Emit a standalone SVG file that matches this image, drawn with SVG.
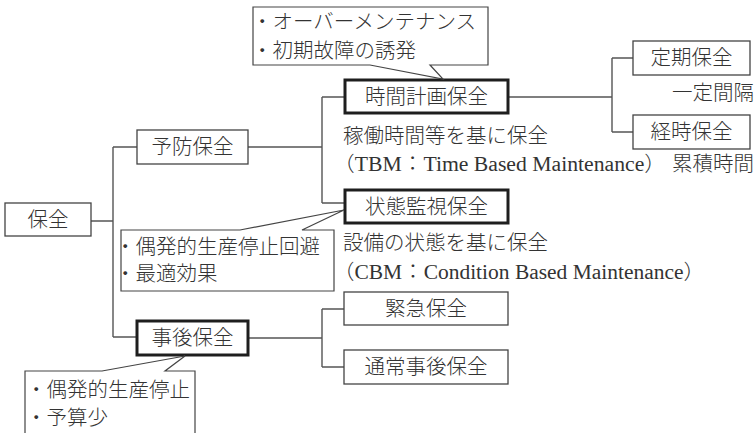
<svg xmlns="http://www.w3.org/2000/svg" width="755" height="433" viewBox="0 0 755 433">
<style>
text{font-family:"Liberation Serif","Noto Sans CJK JP",serif;font-size:20.5px;font-weight:300;fill:#333;dominant-baseline:central}
.c{text-anchor:middle}
.box{fill:#fff;stroke:#444;stroke-width:1.3}
.bold{fill:#fff;stroke:#1e1e1e;stroke-width:3}
.call{fill:#fff;stroke:#444;stroke-width:1.2;stroke-linejoin:miter}
#connectors path{fill:none;stroke:#555;stroke-width:1.4}
</style>
<rect width="755" height="433" fill="#fff"/>
<g id="connectors">
<path d="M91,221 H113 M113,147 V337 M113,147 H137 M113,337 H137"/>
<path d="M248,147 H322 M322,97 V203 M322,97 H345 M322,203 H345"/>
<path d="M508,97 H612 M612,58 V132 M612,58 H633 M612,132 H633"/>
<path d="M248,338 H322 M322,309 V367 M322,309 H344 M322,367 H344"/>
</g>
<g id="n-hozen"><rect class="box" x="5" y="203" width="86" height="33"/><text class="c" x="48" y="219.5">保全</text></g>
<g id="n-yobou"><rect class="box" x="137" y="130" width="111" height="34"/><text class="c" x="192.5" y="147">予防保全</text></g>
<g id="n-jigo"><rect class="bold" x="137" y="321" width="111" height="34"/><text class="c" x="192.5" y="338">事後保全</text></g>
<g id="n-jikan"><rect class="bold" x="345" y="80" width="163" height="33"/><text class="c" x="426.5" y="96.5">時間計画保全</text></g>
<g id="n-joutai"><rect class="bold" x="345" y="190" width="163" height="33"/><text class="c" x="426.5" y="206.5">状態監視保全</text></g>
<g id="n-teiki"><rect class="box" x="633" y="41" width="117" height="34"/><text class="c" x="691.5" y="58">定期保全</text></g>
<g id="n-keiji"><rect class="box" x="633" y="115" width="117" height="34"/><text class="c" x="691.5" y="132">経時保全</text></g>
<g id="n-kinkyu"><rect class="box" x="344" y="292" width="164" height="33"/><text class="c" x="426" y="308.5">緊急保全</text></g>
<g id="n-tsujo"><rect class="box" x="344" y="350" width="164" height="34"/><text class="c" x="426" y="367">通常事後保全</text></g>
<g id="note-tbm">
<text x="343" y="136">稼働時間等を基に保全</text>
<text x="333" y="164" textLength="333" lengthAdjust="spacingAndGlyphs">（TBM：Time Based Maintenance）</text>
</g>
<g id="note-cbm">
<text x="343" y="243">設備の状態を基に保全</text>
<text x="333" y="272" textLength="372" lengthAdjust="spacingAndGlyphs">（CBM：Condition Based Maintenance）</text>
</g>
<g id="note-teiki"><text x="672" y="93">一定間隔</text></g>
<g id="note-keiji"><text x="672" y="164">累積時間</text></g>
<g id="callout-jikan">
<path class="call" d="M253,7 H488 V65 H430 L443,79 L370,65 H253 Z"/>
<text x="252" y="22">・オーバーメンテナンス</text>
<text x="252" y="51">・初期故障の誘発</text>
</g>
<g id="callout-joutai">
<path class="call" d="M121,230 H240 L344,210 L302,230 H334 V291 H121 Z"/>
<text x="115" y="247">・偶発的生産停止回避</text>
<text x="115" y="274">・最適効果</text>
</g>
<g id="callout-jigo">
<path class="call" d="M25,371 H102 L185,356 L165,371 H195 V440 H25 Z"/>
<text x="26" y="390">・偶発的生産停止</text>
<text x="26" y="418">・予算少</text>
</g>
</svg>
